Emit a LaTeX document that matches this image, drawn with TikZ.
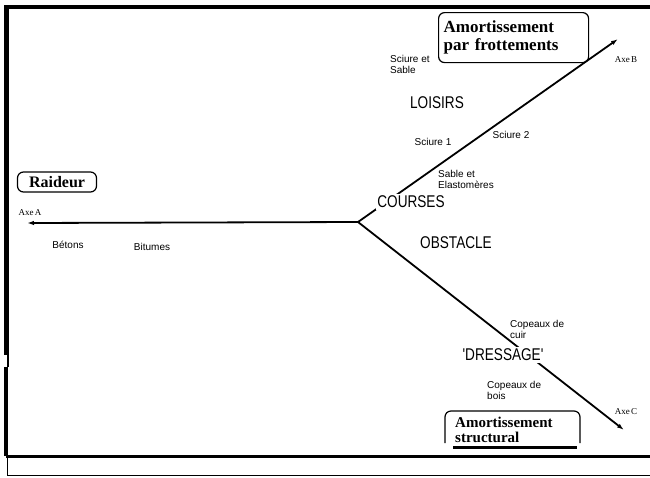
\documentclass[tikz,border=0pt]{standalone}
\usepackage{fontspec}
\setmainfont{Liberation Serif}
\newfontfamily\labfont{Liberation Sans}
\newfontfamily\catfont[FakeStretch=0.8]{Liberation Sans}
\usetikzlibrary{arrows.meta}
\tikzset{
  cat/.style={font=\catfont\fontsize{17}{18}\selectfont, fill=white, inner sep=1.5pt},
  smalllab/.style={font=\labfont\fontsize{10}{11}\selectfont, align=left, inner sep=0pt},
  axelab/.style={font=\fontsize{9}{10}\selectfont, inner sep=0pt},
  boxlab/.style={draw, line width=1.2pt, rounded corners=6pt, font=\bfseries\fontsize{17}{18}\selectfont, align=left},
  axisline/.style={line width=1.8pt, -{Latex[length=7pt,width=4.5pt]}},
  frame/.style={line width=4pt}
}
\begin{document}
\begin{tikzpicture}[x=1pt,y=-1pt]
\useasboundingbox (0,0) rectangle (650,477);
% frame
\draw[frame] (4,7) -- (650,7);
\draw[line width=4.5pt] (6.5,5) -- (6.5,355);
\draw[line width=1.5pt] (8,355) -- (8,367);
\draw[frame] (6,367) -- (6,456);
\draw[line width=1.5pt] (7.5,456) -- (7.5,476);
\draw[line width=3pt] (6,456) -- (650,456);
\draw[line width=1.2pt] (7,475.5) -- (650,475.5);
% axes
\coordinate (J) at (358,222);
\coordinate (TA) at (27,223);
\coordinate (TB) at (618,39);
\coordinate (TC) at (624,430);
\draw[axisline] (J) -- (TA);
\draw[axisline] (J) -- (TB);
\draw[axisline] (J) -- (TC);
% category labels
\node[cat] (courses) at (411,202) {COURSES};
\node[cat] (loisirs) at (437,103) {LOISIRS};
\node[cat] (obstacle) at (456,243) {OBSTACLE};
\node[cat] (dressage) at (503,355) {'DRESSAGE'};
% small labels
\node[smalllab, anchor=west] (sciuresable) at (390,64) {Sciure et\\Sable};
\node[smalllab] (sciure1) at (433,142) {Sciure 1};
\node[smalllab] (sciure2) at (511,135) {Sciure 2};
\node[smalllab, anchor=west] (sable) at (438,179) {Sable et\\Elastomères};
\node[smalllab] (betons) at (68,245) {Bétons};
\node[smalllab] (bitumes) at (152,247) {Bitumes};
\node[smalllab, anchor=west] (cuir) at (510,329) {Copeaux de\\cuir};
\node[smalllab, anchor=west] (bois) at (487,390) {Copeaux de\\bois};
% axis names
\node[axelab] (axeA) at (30,213) {Axe\,A};
\node[axelab] (axeB) at (626,60) {Axe\,B};
\node[axelab] (axeC) at (626,412) {Axe\,C};
% boxes
\node[boxlab, font=\bfseries\fontsize{16}{18}\selectfont, minimum height=20pt, minimum width=79pt, inner sep=2pt] (raideur) at (57,182) {Raideur};
\node[boxlab, anchor=north west, minimum height=50pt, text width=140pt, inner xsep=5pt, inner ysep=2pt] (frott) at (438,12) {Amortissement\\par frottements};
\draw[line width=1.2pt, rounded corners=6pt] (445,443) -- (445,411) -- (580,411) -- (580,443);
\node[font=\bfseries\fontsize{15}{15.5}\selectfont, align=left, anchor=west, inner sep=0pt] (struct) at (455,430) {Amortissement\\structural};
\draw[line width=3pt] (453,447) -- (577,447);
\end{tikzpicture}
\end{document}
